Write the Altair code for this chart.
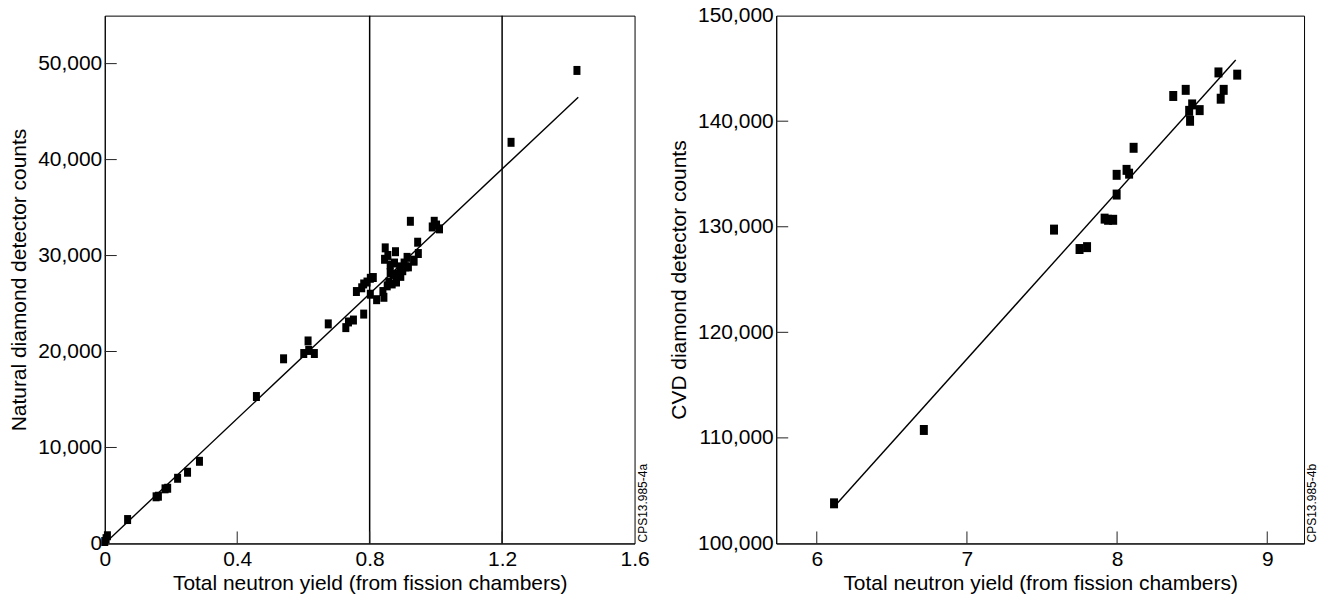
import altair as alt
import pandas as pd

FONT = "Liberation Sans"

# ---------------- Left panel: natural diamond ----------------
nat_x = [0.000, 0.004, 0.008, 0.069, 0.155, 0.162, 0.182, 0.190, 0.220, 0.250,
         0.286, 0.458, 0.540, 0.601, 0.614, 0.616, 0.633, 0.675, 0.728, 0.736,
         0.751, 0.760, 0.776, 0.782, 0.782, 0.792, 0.802, 0.811, 0.802, 0.821,
         0.843, 0.840, 0.845, 0.847, 0.855, 0.853, 0.858, 0.862, 0.862, 0.868,
         0.871, 0.875, 0.878, 0.881, 0.887, 0.891, 0.894, 0.900, 0.904, 0.909,
         0.913, 0.917, 0.923, 0.933, 0.934, 0.945, 0.947, 0.989, 0.995, 1.002,
         1.011, 1.227, 1.426]
nat_y = [200, 500, 800, 2490, 4860, 4920, 5690, 5750, 6790, 7420,
         8560, 15310, 19240, 19790, 21100, 20110, 19790, 22880, 22490, 23080,
         23280, 26250, 26640, 27040, 23900, 27240, 27630, 27710, 25970, 25400,
         25650, 26250, 29610, 30800, 30010, 26840, 27240, 28230, 29020, 27040,
         28030, 29220, 30400, 27240, 28030, 28820, 27830, 28420, 29220, 28820,
         29810, 28820, 33570, 29520, 29410, 31390, 30210, 32980, 33570, 33180,
         32780, 41800, 49290]
nat_fit_x = [0.0, 1.43]
nat_fit_y = [0, 46500]
nat_vlines = [0.8, 1.2]
nat_xticks = [0.4, 0.8, 1.2]
nat_yticks = [10000, 20000, 30000, 40000, 50000]
nat_xlabels = [0, 0.4, 0.8, 1.2, 1.6]
nat_ylabels = [0, 10000, 20000, 30000, 40000, 50000]

# ---------------- Right panel: CVD diamond ----------------
cvd_x = [6.115, 6.713, 7.580, 7.750, 7.800, 7.917, 7.940, 7.974, 7.997, 7.997,
         8.063, 8.080, 8.110, 8.374, 8.457, 8.480, 8.486, 8.500, 8.550, 8.675,
         8.690, 8.710, 8.800]
cvd_y = [103800, 110750, 129730, 127890, 128070, 130770, 130660, 130660, 133050, 134920,
         135390, 135030, 137480, 142390, 142970, 140980, 140040, 141590, 141050, 144620,
         142130, 142970, 144410]
cvd_fit_x = [6.12, 8.79]
cvd_fit_y = [103550, 145800]
cvd_xticks = [6, 7, 8, 9]
cvd_yticks = [110000, 120000, 130000, 140000]
cvd_xlabels = [6, 7, 8, 9]
cvd_ylabels = [100000, 110000, 120000, 130000, 140000, 150000]

X_TITLE = "Total neutron yield (from fission chambers)"
TICK_LEN = 12


def panel(px, py, fit_x, fit_y, xdom, ydom, xticks, yticks, xlabels, ylabels,
          xfmt, ytitle, code, W, H, msize, mshape, vlines=None):
    xs = alt.Scale(domain=xdom, nice=False, zero=False)
    ys = alt.Scale(domain=ydom, nice=False, zero=False)
    xaxis = alt.Axis(values=xlabels, format=xfmt, title=X_TITLE, labelFlush=False,
                     ticks=False, grid=False, labelPadding=5, titlePadding=3)
    yaxis = alt.Axis(values=ylabels, format=",d", title=ytitle, labelFlush=False,
                     ticks=False, grid=False, labelPadding=3, titlePadding=8)

    def X(f="x"):
        return alt.X(f + ":Q", scale=xs, axis=xaxis)

    def Y(f="y"):
        return alt.Y(f + ":Q", scale=ys, axis=yaxis)

    pts = alt.Chart(pd.DataFrame({"x": px, "y": py})).mark_point(
        filled=True, shape=mshape, size=msize, color="black", opacity=1
    ).encode(x=X(), y=Y())

    fit = alt.Chart(pd.DataFrame({"x": fit_x, "y": fit_y})).mark_line(
        color="black", strokeWidth=1.4
    ).encode(x=X(), y=Y())

    xt = alt.Chart(pd.DataFrame({"x": xticks})).mark_rule(color="#222", strokeWidth=1).encode(
        x=X(), y=alt.value(H), y2=alt.value(H - TICK_LEN))
    yt = alt.Chart(pd.DataFrame({"y": yticks})).mark_rule(color="#222", strokeWidth=1).encode(
        y=Y(), x=alt.value(0), x2=alt.value(TICK_LEN))

    txt = alt.Chart(pd.DataFrame({"t": [code]})).mark_text(
        angle=270, align="left", baseline="top", fontSize=12, font=FONT, color="black"
    ).encode(text="t:N", x=alt.value(W + 3), y=alt.value(H - 1))

    layers = [pts, fit, xt, yt, txt]
    if vlines is not None:
        vl = alt.Chart(pd.DataFrame({"x": vlines})).mark_rule(color="black", strokeWidth=1.5).encode(
            x=X())
        layers.insert(0, vl)
    return alt.layer(*layers).properties(width=W, height=H)


left = panel(nat_x, nat_y, nat_fit_x, nat_fit_y, [0, 1.6], [0, 55000],
             nat_xticks, nat_yticks, nat_xlabels, nat_ylabels, "~g",
             "Natural diamond detector counts", "CPS13.985-4a", 531, 529,
             81, "M-0.78,-1H0.78V1H-0.78Z", vlines=nat_vlines)
right = panel(cvd_x, cvd_y, cvd_fit_x, cvd_fit_y, [5.73, 9.245], [100000, 150000],
              cvd_xticks, cvd_yticks, cvd_xlabels, cvd_ylabels, "d",
              "CVD diamond detector counts", "CPS13.985-4b", 529, 529,
              100, "M-0.8,-1H0.8V1H-0.8Z")

chart = alt.hconcat(left, right, spacing=17).properties(
    padding={"left": 8, "top": 3, "right": 0, "bottom": 0}
).configure(
    font=FONT
).configure_view(
    stroke="black", strokeWidth=1
).configure_axis(
    labelFont=FONT, titleFont=FONT, labelFontSize=21, titleFontSize=21,
    titleFontWeight="normal", labelColor="black", titleColor="black",
    domainColor="black", domainWidth=1
)

chart.save("out.html", embed_options={"renderer": "svg", "actions": False})
